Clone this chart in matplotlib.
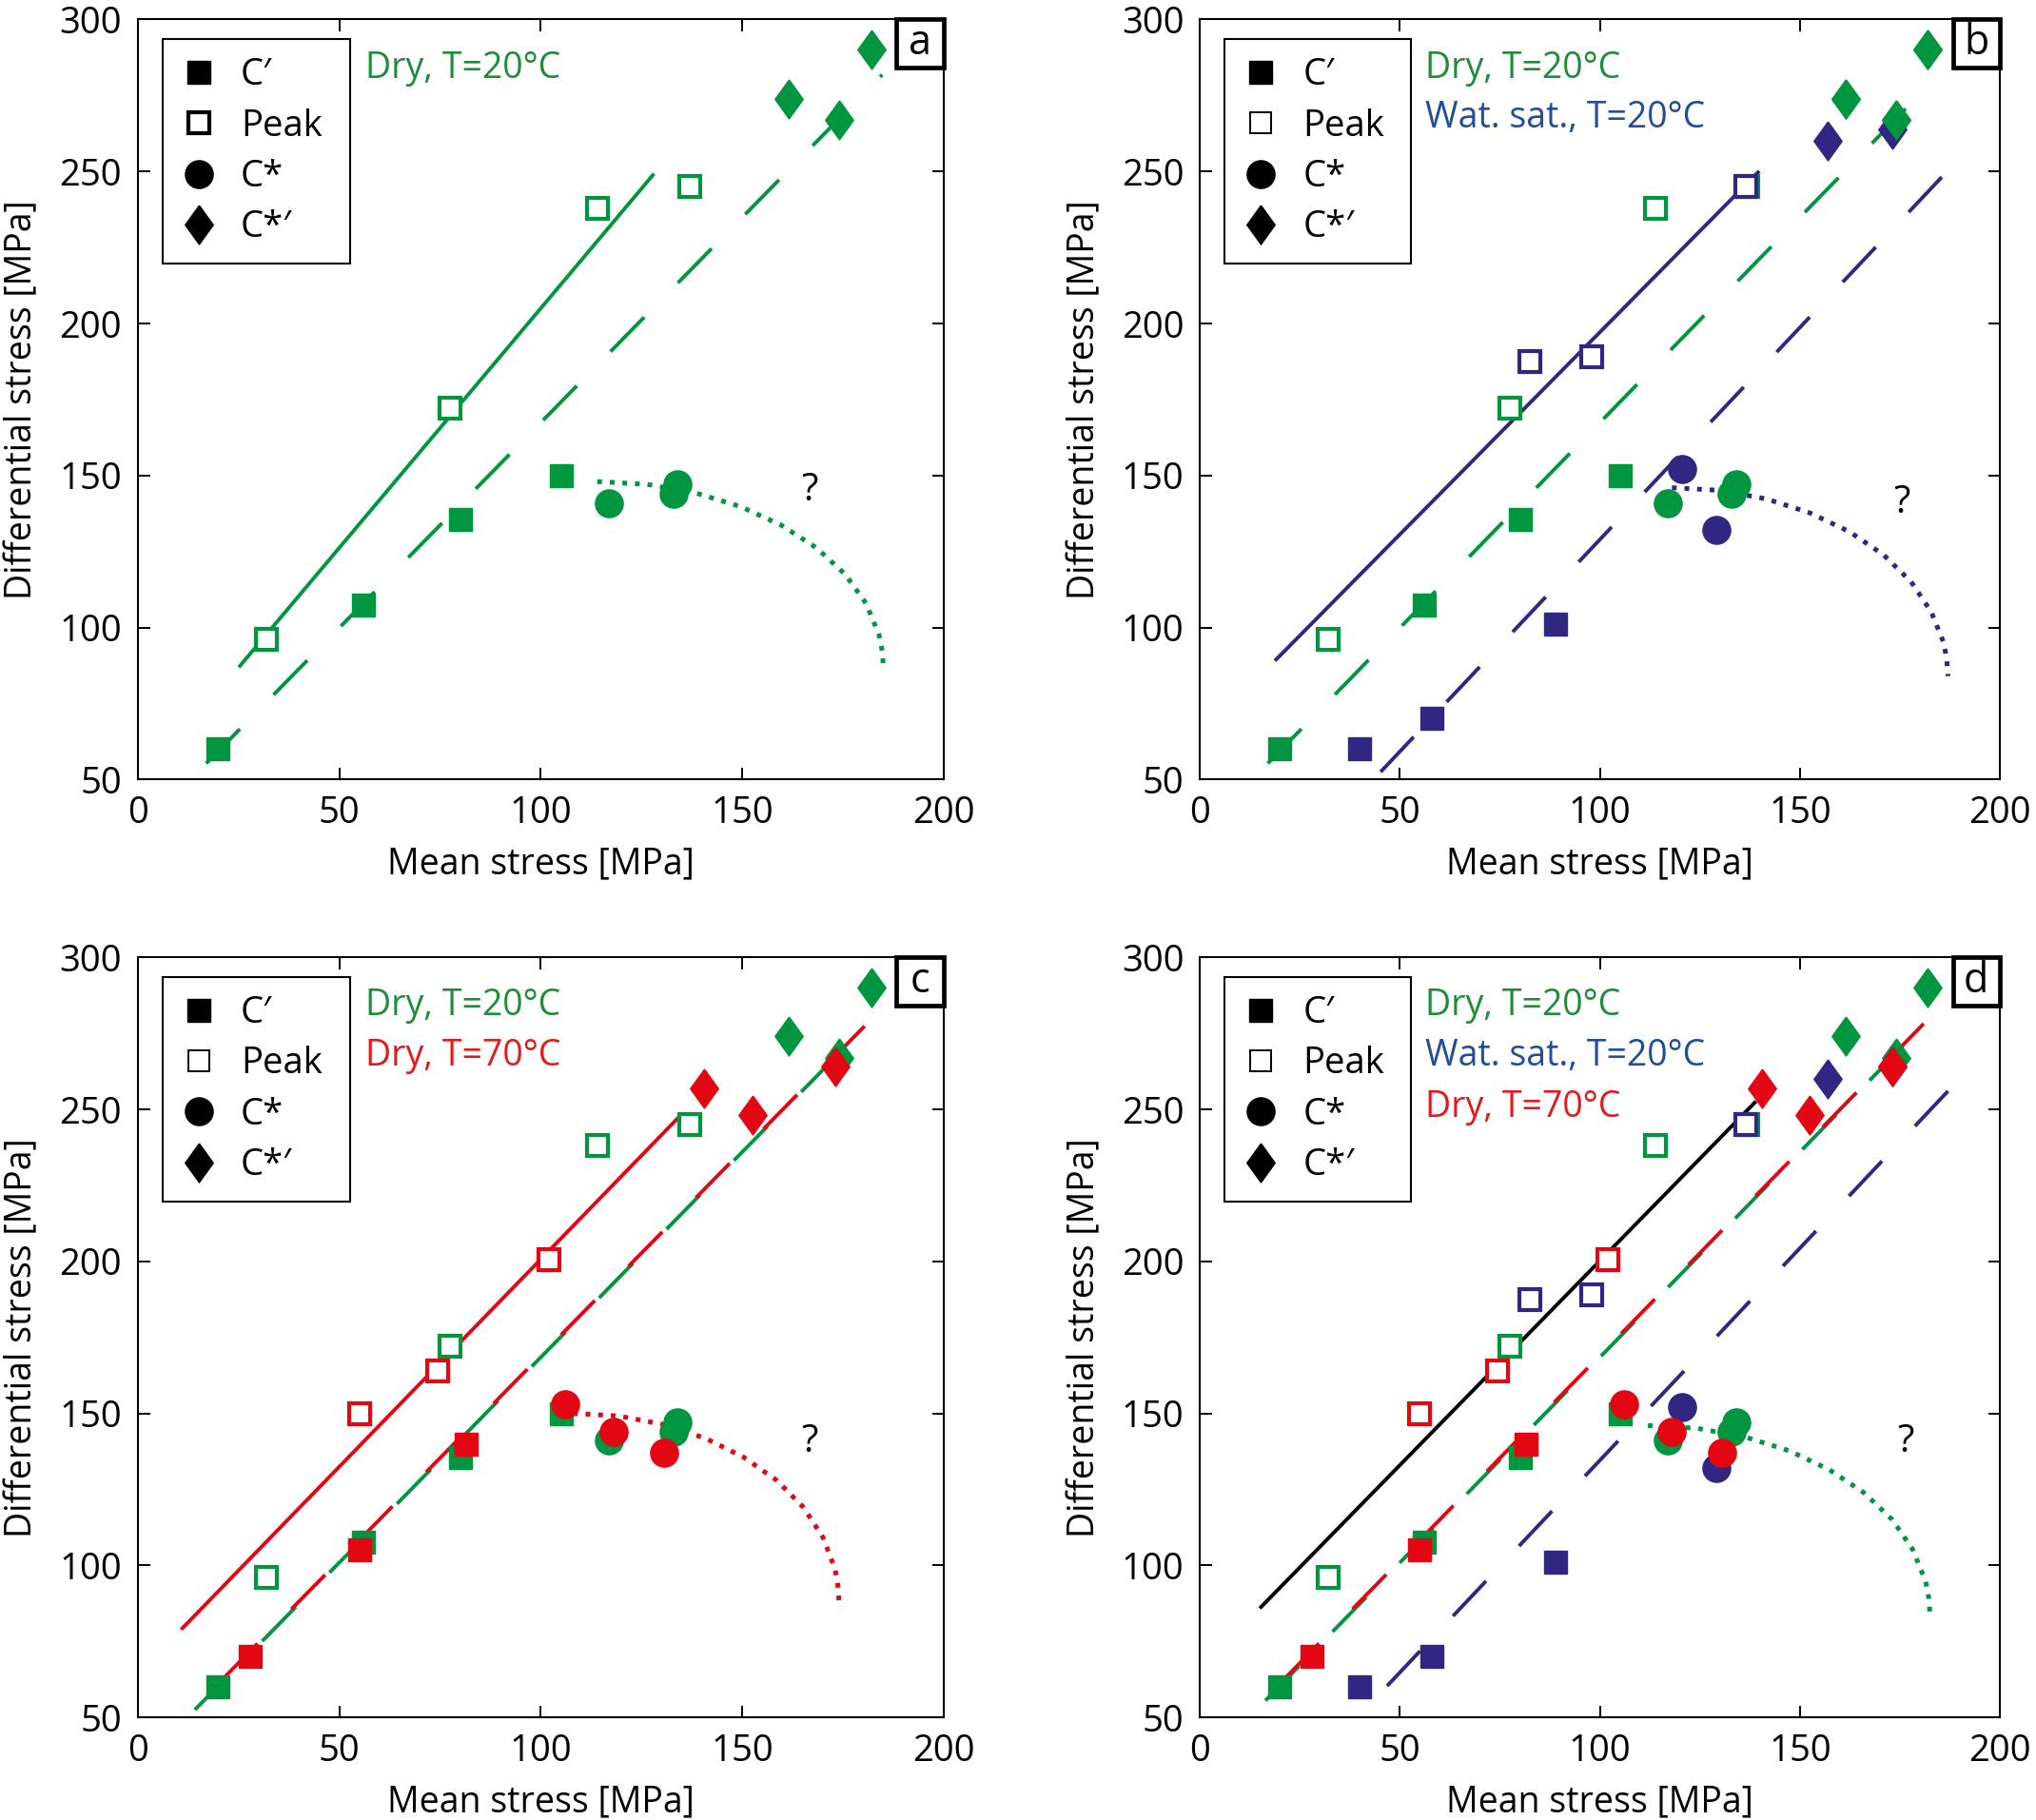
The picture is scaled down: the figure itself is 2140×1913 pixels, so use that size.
import numpy as np
import matplotlib.pyplot as plt
from matplotlib.lines import Line2D
from matplotlib.patches import Rectangle

plt.rcParams['font.family'] = ['Open Sans', 'DejaVu Sans']
plt.rcParams['font.size'] = 27

GREEN = '#009640'
BLUE = '#312783'
RED = '#e30613'
GREEN_T = '#1e8c3a'
BLUE_T = '#1f4e9c'
RED_T = '#e31a1c'

# ---- data (MPa) ----
# dry, T=20C
dry20_c1_x = [20, 56, 80, 105]
dry20_c1_y = [60, 107.5, 135.5, 150]
dry20_peak_x = [32, 77.5, 114, 137]
dry20_peak_y = [96, 172, 238, 245]
dry20_cs_x = [117, 133, 134]
dry20_cs_y = [141, 144, 147]
dry20_csp_x = [161.5, 174, 182]
dry20_csp_y = [274, 267, 290]

# water saturated, T=20C
wet20_c1_x = [40, 58, 89]
wet20_c1_y = [60, 70, 101]
wet20_peak_x = [82.5, 98, 136.5]
wet20_peak_y = [187.5, 189, 245]
wet20_cs_x = [120.5, 129]
wet20_cs_y = [152, 132]
wet20_csp_x = [157, 173]
wet20_csp_y = [260, 264]

# dry, T=70C
dry70_c1_x = [28, 55, 81.5]
dry70_c1_y = [70, 105, 140]
dry70_peak_x = [55, 74.5, 102]
dry70_peak_y = [150, 164, 200.5]
dry70_cs_x = [106, 118, 130.5]
dry70_cs_y = [153, 144, 137]
dry70_csp_x = [140.5, 152.5, 173]
dry70_csp_y = [257, 248, 264]

# fitted lines (end points)
peak_dry20_line = ([25.4, 127.8], [87.4, 248.8])
peak_wet20_line = ([19.1, 139.5], [89.5, 249.7])
peak_dry70_line = ([11.1, 134.0], [79.3, 247.1])
peak_all_line = ([15.3, 138.7], [86.3, 252.2])
c1_dry20_line_ab = ([17.0, 184.7], [55.3, 281.8])
c1_dry20_line_c = ([14.2, 178.5], [52.5, 274.5])
c1_dry20_line_d = ([16.4, 180.0], [55.5, 276.5])
c1_dry70_line = ([21.4, 186.0], [63.0, 285.0])
c1_wet20_line_b = ([45.2, 192.3], [52.5, 257.7])
c1_wet20_line_d = ([46.8, 193.6], [60.3, 265.2])

# envelope caps (dotted)
cap_a_x = [114, 126.3, 138.3, 149.5, 159.6, 168.4, 175.5, 180.7, 183.9, 184.7, 185]
cap_a_y = [148, 147.1, 144.3, 139.8, 133.7, 126.2, 117.5, 107.9, 97.6, 92.3, 87]
cap_b_x = [118, 130.0, 141.6, 152.5, 162.4, 170.9, 177.8, 182.8, 186.0, 186.7, 187]
cap_b_y = [146, 145.1, 142.3, 137.7, 131.5, 123.9, 115, 105.2, 94.8, 89.4, 84]
cap_c_x = [108, 119.5, 130.6, 141, 150.4, 158.6, 165.2, 170, 173, 173.7, 174]
cap_c_y = [150, 149.1, 146.3, 141.7, 135.5, 127.9, 119, 109.2, 98.8, 93.4, 88]
cap_d_x = [112, 124.2, 136.1, 147.3, 157.3, 166, 173.1, 178.2, 181.4, 182.2, 182.5]
cap_d_y = [146, 145.1, 142.3, 137.7, 131.5, 123.9, 115, 105.2, 94.8, 89.4, 84]

LW = 2.8
SQ = 17
CI = 21
DIAMOND = [(0, 1), (0.72, 0), (0, -1), (-0.72, 0), (0, 1)]
DM = 29.5


def points(ax, color, c1, peak, cs, csp, z=3):
    ax.plot(*c1, ls='none', marker='s', ms=SQ, color=color, mec=color, zorder=z)
    ax.plot(*peak, ls='none', marker='s', ms=SQ - 1, mfc='white', mec=color, mew=3.0, zorder=z)
    ax.plot(*cs, ls='none', marker='o', ms=CI, color=color, mec=color, zorder=z)
    ax.plot(*csp, ls='none', marker=DIAMOND, ms=DM, color=color, mec=color, zorder=z)


def setup(ax, letter, labels, legend_thick=False):
    ax.set_xlim(0, 200)
    ax.set_ylim(50, 300)
    ax.set_xticks([0, 50, 100, 150, 200])
    ax.set_yticks([50, 100, 150, 200, 250, 300])
    ax.tick_params(direction='in', top=True, right=True, length=9, width=1.4,
                   labelsize=27.5, pad=12)
    for s in ax.spines.values():
        s.set_linewidth(1.5)
    ax.set_xlabel('Mean stress [MPa]', fontsize=27, labelpad=11)
    ax.set_ylabel('Differential stress [MPa]', fontsize=27, labelpad=14)

    mew = 3.0 if legend_thick else 1.4
    handles = [
        Line2D([], [], ls='none', marker='s', ms=SQ, color='k'),
        Line2D([], [], ls='none', marker='s', ms=SQ - 1, mfc='white', mec='k', mew=mew),
        Line2D([], [], ls='none', marker='o', ms=CI, color='k'),
        Line2D([], [], ls='none', marker=DIAMOND, ms=DM, color='k'),
    ]
    leg = ax.legend(handles, ['C\u2032', 'Peak', 'C*', 'C*\u2032'],
                    loc='upper left', bbox_to_anchor=(0.031, 0.679, 0.233, 0.295),
                    mode='expand', borderaxespad=0, borderpad=0.5,
                    labelspacing=0.4, handlelength=1.0, handletextpad=0.65,
                    fancybox=False, edgecolor='k', framealpha=1, fontsize=27.5)
    leg.get_frame().set_linewidth(1.5)

    ys = [0.936, 0.87, 0.803]
    for (txt, col), yy in zip(labels, ys):
        ax.text(0.282, yy, txt, color=col, transform=ax.transAxes,
                fontsize=27, va='center', ha='left')

    ax.add_patch(Rectangle((0.941, 0.937), 0.059, 0.063, transform=ax.transAxes,
                           fc='white', ec='k', lw=3.4, zorder=6, clip_on=False))
    ax.text(0.9705, 0.9685, letter, transform=ax.transAxes, ha='center',
            va='center', fontsize=31, zorder=7)


fig = plt.figure(figsize=(21.4, 19.13), dpi=100)
ax_a = fig.add_axes([0.0676, 0.5717, 0.396, 0.4176])
ax_b = fig.add_axes([0.5893, 0.5717, 0.393, 0.4176])
ax_c = fig.add_axes([0.0676, 0.0564, 0.396, 0.4176])
ax_d = fig.add_axes([0.5893, 0.0564, 0.393, 0.4176])

dry20 = ((dry20_c1_x, dry20_c1_y), (dry20_peak_x, dry20_peak_y),
         (dry20_cs_x, dry20_cs_y), (dry20_csp_x, dry20_csp_y))
wet20 = ((wet20_c1_x, wet20_c1_y), (wet20_peak_x, wet20_peak_y),
         (wet20_cs_x, wet20_cs_y), (wet20_csp_x, wet20_csp_y))
dry70 = ((dry70_c1_x, dry70_c1_y), (dry70_peak_x, dry70_peak_y),
         (dry70_cs_x, dry70_cs_y), (dry70_csp_x, dry70_csp_y))

dash = (13, 13)
DOT_LW = 3.6

# a
ax = ax_a
ax.plot(*peak_dry20_line, color=GREEN, lw=LW)
ax.plot(*c1_dry20_line_ab, color=GREEN, lw=LW, dashes=dash)
ax.plot(cap_a_x, cap_a_y, color=GREEN, lw=DOT_LW, ls=':')
points(ax, GREEN, *dry20)
ax.text(166.7, 145, '?', fontsize=29, ha='center', va='center')
setup(ax, 'a', [('Dry, T=20\u00b0C', GREEN_T)], legend_thick=True)

# b
ax = ax_b
ax.plot(*peak_wet20_line, color=BLUE, lw=LW)
ax.plot(*c1_dry20_line_ab, color=GREEN, lw=LW, dashes=dash)
ax.plot(*c1_wet20_line_b, color=BLUE, lw=LW, dashes=dash)
ax.plot(cap_b_x, cap_b_y, color=BLUE, lw=DOT_LW, ls=':')
points(ax, GREEN, *dry20)
points(ax, BLUE, *wet20, z=3.5)
ax.plot(dry20_csp_x, dry20_csp_y, ls='none', marker=DIAMOND, ms=DM, color=GREEN, zorder=4)
ax.text(175.5, 141, '?', fontsize=29, ha='center', va='center')
setup(ax, 'b', [('Dry, T=20\u00b0C', GREEN_T), ('Wat. sat., T=20\u00b0C', BLUE_T)])

# c
ax = ax_c
ax.plot(*peak_dry70_line, color=RED, lw=LW)
ax.plot(*c1_dry20_line_c, color=GREEN, lw=LW, dashes=dash)
ax.plot(*c1_dry70_line, color=RED, lw=LW, dashes=dash)
ax.plot(cap_c_x, cap_c_y, color=RED, lw=DOT_LW, ls=':')
points(ax, GREEN, *dry20)
points(ax, RED, *dry70, z=4)
ax.text(166.7, 140.6, '?', fontsize=29, ha='center', va='center')
setup(ax, 'c', [('Dry, T=20\u00b0C', GREEN_T), ('Dry, T=70\u00b0C', RED_T)])

# d
ax = ax_d
ax.plot(*peak_all_line, color='k', lw=LW)
ax.plot(*c1_dry20_line_d, color=GREEN, lw=LW, dashes=dash)
ax.plot(*c1_dry70_line, color=RED, lw=LW, dashes=dash)
ax.plot(*c1_wet20_line_d, color=BLUE, lw=LW, dashes=dash)
ax.plot(cap_d_x, cap_d_y, color=GREEN, lw=DOT_LW, ls=':')
points(ax, GREEN, *dry20)
points(ax, BLUE, *wet20, z=3.5)
points(ax, RED, *dry70, z=4)
ax.text(176.5, 140.6, '?', fontsize=29, ha='center', va='center')
setup(ax, 'd', [('Dry, T=20\u00b0C', GREEN_T), ('Wat. sat., T=20\u00b0C', BLUE_T),
                ('Dry, T=70\u00b0C', RED_T)])

fig.savefig('out.png', dpi=100)
